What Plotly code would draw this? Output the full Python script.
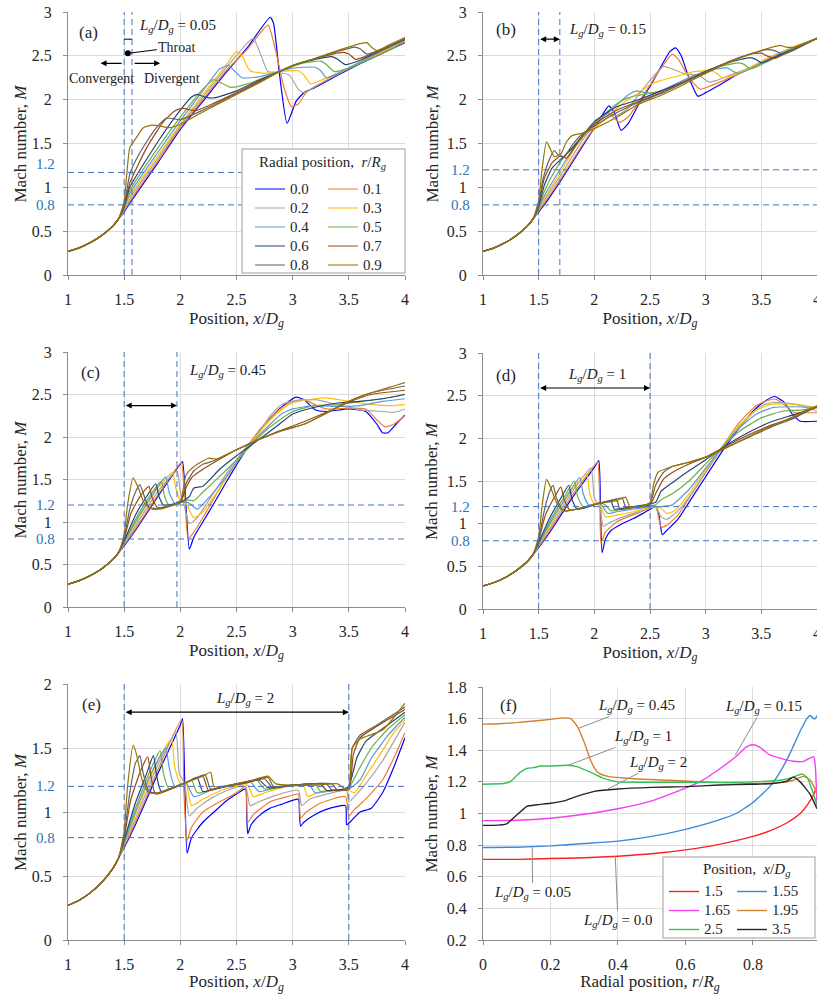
import plotly.graph_objects as go

# radial positions r/Rg and their colours (panels a-e)
R_NAMES = ["0.0", "0.1", "0.2", "0.3", "0.4", "0.5", "0.6", "0.7", "0.8", "0.9"]
R_COLORS = ["#0000ff", "#ed7d31", "#a5a5a5", "#ffc000", "#5b9bd5",
            "#70ad47", "#264478", "#9e480e", "#636363", "#997300"]

# convergent section, common to every radial position
INLET = [(1.0, 0.27), (1.1, 0.31), (1.2, 0.37), (1.3, 0.45), (1.4, 0.56), (1.45, 0.64)]

# (a) Lg/Dg = 0.05
PANEL_A = [
    [(1.5, 0.72), (1.55, 0.82), (1.8, 1.28), (2.0, 1.66), (2.2, 1.98), (2.4, 2.3), (2.6, 2.6), (2.8, 2.94),
     (2.83, 2.87), (2.88, 2.32), (2.95, 1.73), (3.03, 1.98), (3.1, 2.08), (3.2, 2.14), (3.4, 2.28), (3.6, 2.41),
     (3.8, 2.53), (4.0, 2.65)],
    [(1.5, 0.73), (1.55, 0.84), (1.8, 1.3), (2.0, 1.68), (2.2, 2.0), (2.4, 2.32), (2.6, 2.58), (2.78, 2.85),
     (2.85, 2.55), (2.92, 2.15), (2.99, 1.92), (3.05, 1.95), (3.12, 2.08), (3.2, 2.15), (3.4, 2.29), (3.6, 2.42),
     (3.8, 2.54), (4.0, 2.66)],
    [(1.5, 0.74), (1.55, 0.87), (1.8, 1.33), (2.0, 1.7), (2.2, 2.03), (2.4, 2.35), (2.6, 2.65), (2.65, 2.7),
     (2.72, 2.5), (2.78, 2.32), (2.88, 2.31), (2.97, 2.28), (3.05, 2.12), (3.1, 2.08), (3.2, 2.15), (3.4, 2.29),
     (3.6, 2.42), (3.8, 2.55), (4.0, 2.67)],
    [(1.5, 0.75), (1.55, 0.9), (1.8, 1.36), (2.0, 1.72), (2.2, 2.06), (2.4, 2.38), (2.5, 2.55), (2.55, 2.5),
     (2.62, 2.33), (2.75, 2.3), (2.88, 2.32), (3.05, 2.33), (3.1, 2.28), (3.16, 2.18), (3.25, 2.22), (3.4, 2.3),
     (3.6, 2.43), (3.8, 2.55), (4.0, 2.67)],
    [(1.5, 0.76), (1.55, 0.93), (1.8, 1.4), (2.0, 1.76), (2.2, 2.1), (2.35, 2.35), (2.43, 2.39), (2.48, 2.33),
     (2.55, 2.25), (2.7, 2.26), (2.88, 2.32), (3.0, 2.36), (3.2, 2.37), (3.25, 2.33), (3.3, 2.25), (3.4, 2.3),
     (3.6, 2.43), (3.8, 2.56), (4.0, 2.68)],
    [(1.5, 0.77), (1.55, 0.96), (1.8, 1.45), (2.0, 1.8), (2.2, 2.12), (2.3, 2.23), (2.35, 2.2), (2.45, 2.14),
     (2.6, 2.18), (2.88, 2.32), (3.0, 2.38), (3.1, 2.42), (3.25, 2.44), (3.3, 2.4), (3.37, 2.32), (3.5, 2.36),
     (3.7, 2.47), (3.9, 2.59), (4.0, 2.68)],
    [(1.5, 0.78), (1.55, 1.0), (1.8, 1.52), (2.0, 1.88), (2.1, 2.03), (2.15, 2.06), (2.22, 2.03), (2.3, 2.02),
     (2.5, 2.1), (2.7, 2.22), (2.88, 2.32), (3.0, 2.39), (3.2, 2.46), (3.35, 2.49), (3.4, 2.46), (3.47, 2.4),
     (3.6, 2.45), (3.8, 2.57), (4.0, 2.69)],
    [(1.5, 0.79), (1.55, 1.05), (1.7, 1.45), (1.85, 1.75), (1.95, 1.87), (2.02, 1.9), (2.1, 1.88), (2.15, 1.88),
     (2.3, 1.96), (2.5, 2.08), (2.7, 2.21), (2.88, 2.32), (3.0, 2.39), (3.2, 2.47), (3.45, 2.54), (3.5, 2.52),
     (3.56, 2.46), (3.7, 2.52), (3.85, 2.6), (4.0, 2.69)],
    [(1.5, 0.81), (1.55, 1.15), (1.6, 1.3), (1.7, 1.52), (1.8, 1.7), (1.88, 1.79), (1.95, 1.78), (2.0, 1.77),
     (2.2, 1.88), (2.5, 2.07), (2.7, 2.2), (2.88, 2.32), (3.0, 2.39), (3.2, 2.47), (3.4, 2.55), (3.55, 2.6),
     (3.6, 2.58), (3.66, 2.52), (3.8, 2.58), (4.0, 2.7)],
    [(1.5, 0.84), (1.52, 1.1), (1.55, 1.45), (1.6, 1.55), (1.67, 1.68), (1.75, 1.71), (1.82, 1.7), (1.9, 1.68),
     (2.0, 1.72), (2.2, 1.86), (2.5, 2.06), (2.7, 2.19), (2.88, 2.32), (3.0, 2.39), (3.2, 2.47), (3.4, 2.56),
     (3.6, 2.64), (3.66, 2.65), (3.7, 2.6), (3.75, 2.56), (3.85, 2.62), (4.0, 2.71)],
]

# (b) Lg/Dg = 0.15
PANEL_B = [
    [(1.5, 0.72), (1.55, 0.8), (1.7, 1.08), (1.9, 1.48), (2.05, 1.78), (2.13, 1.93), (2.18, 1.85), (2.24, 1.65),
     (2.3, 1.72), (2.4, 1.95), (2.5, 2.15), (2.6, 2.38), (2.68, 2.55), (2.73, 2.59), (2.78, 2.5), (2.85, 2.25),
     (2.93, 2.04), (3.0, 2.08), (3.1, 2.15), (3.3, 2.3), (3.5, 2.42), (3.75, 2.56), (4.0, 2.7)],
    [(1.5, 0.73), (1.55, 0.82), (1.7, 1.1), (1.9, 1.5), (2.05, 1.76), (2.12, 1.86), (2.17, 1.8), (2.23, 1.74),
     (2.3, 1.8), (2.4, 1.97), (2.5, 2.17), (2.6, 2.36), (2.7, 2.52), (2.76, 2.45), (2.85, 2.25), (2.95, 2.12),
     (3.05, 2.16), (3.2, 2.24), (3.4, 2.36), (3.6, 2.49), (3.8, 2.6), (4.0, 2.7)],
    [(1.5, 0.74), (1.55, 0.85), (1.7, 1.14), (1.9, 1.55), (2.05, 1.78), (2.12, 1.84), (2.2, 1.82), (2.3, 1.9),
     (2.4, 2.06), (2.5, 2.22), (2.62, 2.38), (2.7, 2.35), (2.8, 2.3), (2.95, 2.27), (3.03, 2.2), (3.1, 2.22),
     (3.2, 2.27), (3.4, 2.37), (3.6, 2.5), (3.8, 2.6), (4.0, 2.7)],
    [(1.5, 0.75), (1.55, 0.87), (1.7, 1.18), (1.9, 1.6), (2.0, 1.68), (2.1, 1.78), (2.2, 1.9), (2.3, 2.0),
     (2.4, 2.08), (2.5, 2.17), (2.6, 2.22), (2.75, 2.27), (2.9, 2.32), (3.05, 2.33), (3.1, 2.3), (3.15, 2.25),
     (3.25, 2.28), (3.4, 2.37), (3.6, 2.5), (3.8, 2.61), (4.0, 2.7)],
    [(1.5, 0.76), (1.55, 0.9), (1.7, 1.22), (1.85, 1.52), (2.0, 1.72), (2.15, 1.88), (2.3, 2.05), (2.38, 2.1),
     (2.45, 2.08), (2.55, 2.08), (2.7, 2.16), (2.9, 2.28), (3.1, 2.35), (3.2, 2.36), (3.25, 2.32), (3.3, 2.3),
     (3.45, 2.38), (3.6, 2.48), (3.8, 2.6), (4.0, 2.7)],
    [(1.5, 0.77), (1.55, 0.95), (1.65, 1.2), (1.75, 1.38), (1.85, 1.5), (2.0, 1.73), (2.2, 1.95), (2.3, 2.02),
     (2.4, 2.05), (2.6, 2.1), (2.8, 2.2), (3.0, 2.33), (3.2, 2.4), (3.3, 2.42), (3.35, 2.4), (3.4, 2.35),
     (3.55, 2.43), (3.7, 2.53), (3.85, 2.62), (4.0, 2.7)],
    [(1.5, 0.78), (1.55, 1.02), (1.62, 1.22), (1.7, 1.32), (1.78, 1.42), (1.85, 1.52), (2.0, 1.75), (2.2, 1.92),
     (2.4, 2.0), (2.6, 2.1), (2.8, 2.2), (3.0, 2.32), (3.2, 2.42), (3.4, 2.48), (3.45, 2.46), (3.5, 2.42),
     (3.65, 2.5), (3.8, 2.58), (4.0, 2.7)],
    [(1.5, 0.8), (1.55, 1.1), (1.62, 1.28), (1.7, 1.36), (1.75, 1.33), (1.82, 1.45), (1.9, 1.6), (2.0, 1.72),
     (2.2, 1.88), (2.4, 1.98), (2.6, 2.08), (2.8, 2.2), (3.0, 2.32), (3.2, 2.43), (3.4, 2.52), (3.5, 2.53),
     (3.55, 2.5), (3.62, 2.47), (3.75, 2.55), (4.0, 2.7)],
    [(1.5, 0.82), (1.54, 1.1), (1.6, 1.33), (1.64, 1.42), (1.68, 1.36), (1.73, 1.35), (1.8, 1.48), (1.9, 1.62),
     (2.0, 1.7), (2.2, 1.85), (2.4, 1.97), (2.6, 2.07), (2.8, 2.19), (3.0, 2.31), (3.2, 2.43), (3.4, 2.52),
     (3.55, 2.57), (3.62, 2.56), (3.7, 2.52), (3.8, 2.57), (4.0, 2.7)],
    [(1.5, 0.85), (1.53, 1.2), (1.57, 1.52), (1.6, 1.45), (1.64, 1.35), (1.7, 1.38), (1.75, 1.52), (1.8, 1.59),
     (1.9, 1.62), (2.0, 1.67), (2.2, 1.8), (2.4, 1.95), (2.6, 2.05), (2.8, 2.17), (3.0, 2.3), (3.2, 2.42),
     (3.4, 2.52), (3.6, 2.6), (3.67, 2.62), (3.72, 2.6), (3.8, 2.6), (4.0, 2.7)],
]

# (c) Lg/Dg = 0.45
PANEL_C = [
    [(1.5, 0.72), (1.6, 0.9), (1.8, 1.3), (2.0, 1.68), (2.02, 1.71), (2.05, 1.2), (2.08, 0.68), (2.12, 0.82),
     (2.2, 1.0), (2.3, 1.22), (2.4, 1.45), (2.5, 1.67), (2.6, 1.88), (2.7, 2.07), (2.8, 2.22), (2.9, 2.35),
     (3.03, 2.47), (3.1, 2.44), (3.2, 2.32), (3.3, 2.3), (3.5, 2.33), (3.65, 2.3), (3.75, 2.15), (3.8, 2.05),
     (3.85, 2.05), (3.92, 2.15), (4.0, 2.26)],
    [(1.5, 0.73), (1.6, 0.92), (1.8, 1.32), (2.0, 1.69), (2.01, 1.7), (2.04, 1.3), (2.07, 0.8), (2.12, 0.88),
     (2.2, 1.05), (2.3, 1.28), (2.4, 1.5), (2.5, 1.7), (2.6, 1.9), (2.7, 2.07), (2.8, 2.22), (2.9, 2.34),
     (3.0, 2.42), (3.1, 2.44), (3.2, 2.38), (3.3, 2.33), (3.5, 2.34), (3.65, 2.33), (3.75, 2.2), (3.82, 2.12),
     (3.9, 2.15), (4.0, 2.25)],
    [(1.5, 0.74), (1.6, 0.95), (1.8, 1.36), (1.97, 1.6), (2.0, 1.35), (2.03, 1.22), (2.08, 0.98), (2.15, 1.05),
     (2.25, 1.25), (2.4, 1.55), (2.5, 1.73), (2.6, 1.9), (2.7, 2.05), (2.8, 2.25), (2.9, 2.38), (3.0, 2.42),
     (3.2, 2.44), (3.4, 2.38), (3.6, 2.32), (3.8, 2.3), (3.9, 2.29), (4.0, 2.33)],
    [(1.5, 0.75), (1.6, 0.98), (1.8, 1.4), (1.93, 1.58), (1.96, 1.4), (2.0, 1.25), (2.05, 1.22), (2.12, 1.05),
     (2.2, 1.12), (2.3, 1.3), (2.4, 1.5), (2.5, 1.7), (2.6, 1.88), (2.7, 2.05), (2.8, 2.2), (2.9, 2.32),
     (3.0, 2.4), (3.2, 2.45), (3.3, 2.46), (3.5, 2.42), (3.7, 2.38), (3.9, 2.37), (4.0, 2.38)],
    [(1.5, 0.76), (1.6, 1.0), (1.75, 1.32), (1.87, 1.53), (1.9, 1.35), (1.95, 1.22), (2.0, 1.24), (2.08, 1.22),
     (2.15, 1.15), (2.25, 1.28), (2.4, 1.52), (2.5, 1.7), (2.6, 1.87), (2.7, 2.02), (2.8, 2.15), (2.9, 2.27),
     (3.0, 2.33), (3.2, 2.37), (3.4, 2.36), (3.6, 2.37), (3.8, 2.42), (4.0, 2.45)],
    [(1.5, 0.77), (1.6, 1.03), (1.75, 1.35), (1.83, 1.48), (1.86, 1.3), (1.9, 1.2), (2.0, 1.23), (2.07, 1.26),
     (2.12, 1.25), (2.2, 1.35), (2.4, 1.6), (2.5, 1.73), (2.6, 1.86), (2.7, 2.0), (2.8, 2.12), (3.0, 2.3),
     (3.2, 2.37), (3.4, 2.38), (3.6, 2.42), (3.8, 2.45), (4.0, 2.5)],
    [(1.5, 0.78), (1.6, 1.08), (1.7, 1.3), (1.78, 1.45), (1.81, 1.3), (1.85, 1.2), (2.0, 1.23), (2.08, 1.3),
     (2.12, 1.4), (2.2, 1.42), (2.35, 1.62), (2.5, 1.78), (2.7, 1.97), (2.9, 2.17), (3.0, 2.27), (3.2, 2.35),
     (3.4, 2.4), (3.6, 2.42), (3.8, 2.45), (4.0, 2.5)],
    [(1.5, 0.8), (1.56, 1.1), (1.65, 1.32), (1.72, 1.42), (1.75, 1.28), (1.8, 1.17), (2.0, 1.23), (2.05, 1.4),
     (2.1, 1.52), (2.2, 1.62), (2.3, 1.7), (2.5, 1.85), (2.7, 1.97), (2.9, 2.08), (3.1, 2.18), (3.3, 2.29),
     (3.5, 2.41), (3.7, 2.5), (4.0, 2.55)],
    [(1.5, 0.82), (1.55, 1.15), (1.6, 1.35), (1.64, 1.44), (1.68, 1.3), (1.72, 1.17), (1.8, 1.16), (2.0, 1.23),
     (2.05, 1.45), (2.12, 1.6), (2.2, 1.68), (2.3, 1.72), (2.5, 1.85), (2.7, 1.97), (2.9, 2.08), (3.1, 2.15),
     (3.3, 2.28), (3.5, 2.42), (3.7, 2.52), (4.0, 2.6)],
    [(1.5, 0.85), (1.53, 1.2), (1.58, 1.52), (1.62, 1.42), (1.68, 1.22), (1.75, 1.15), (1.85, 1.16), (2.0, 1.25),
     (2.05, 1.55), (2.12, 1.65), (2.25, 1.75), (2.32, 1.74), (2.5, 1.85), (2.7, 1.97), (2.9, 2.07), (3.1, 2.15),
     (3.3, 2.28), (3.5, 2.42), (3.7, 2.52), (3.9, 2.6), (4.0, 2.64)],
]

# (d) Lg/Dg = 1
PANEL_D = [
    [(1.5, 0.72), (1.6, 0.9), (1.8, 1.3), (2.0, 1.66), (2.04, 1.74), (2.055, 1.2), (2.07, 0.66), (2.1, 0.82),
     (2.15, 0.92), (2.25, 1.0), (2.35, 1.06), (2.45, 1.13), (2.55, 1.2), (2.58, 1.1), (2.61, 0.87), (2.65, 0.92),
     (2.75, 1.05), (2.85, 1.25), (3.0, 1.55), (3.15, 1.85), (3.3, 2.12), (3.45, 2.35), (3.55, 2.45), (3.62, 2.49),
     (3.7, 2.43), (3.78, 2.28), (3.85, 2.2), (4.0, 2.2)],
    [(1.5, 0.73), (1.6, 0.92), (1.8, 1.33), (2.0, 1.68), (2.03, 1.72), (2.05, 1.2), (2.06, 0.77), (2.1, 0.9),
     (2.2, 1.02), (2.3, 1.08), (2.4, 1.13), (2.55, 1.2), (2.6, 0.96), (2.65, 0.98), (2.75, 1.1), (2.85, 1.3),
     (3.0, 1.6), (3.15, 1.9), (3.3, 2.18), (3.45, 2.38), (3.55, 2.44), (3.63, 2.46), (3.72, 2.38), (3.8, 2.3),
     (3.9, 2.3), (4.0, 2.3)],
    [(1.5, 0.74), (1.6, 0.95), (1.8, 1.37), (1.97, 1.65), (2.0, 1.3), (2.05, 1.2), (2.08, 0.97), (2.15, 1.02),
     (2.3, 1.1), (2.45, 1.16), (2.55, 1.2), (2.6, 1.08), (2.65, 1.05), (2.75, 1.15), (2.9, 1.4), (3.05, 1.7),
     (3.2, 1.97), (3.35, 2.2), (3.5, 2.38), (3.6, 2.42), (3.8, 2.4), (4.0, 2.32)],
    [(1.5, 0.75), (1.6, 0.98), (1.8, 1.4), (1.93, 1.58), (1.96, 1.35), (2.0, 1.23), (2.05, 1.22), (2.1, 1.08),
     (2.2, 1.1), (2.35, 1.14), (2.5, 1.19), (2.6, 1.18), (2.65, 1.12), (2.72, 1.15), (2.85, 1.35), (3.0, 1.63),
     (3.15, 1.9), (3.3, 2.15), (3.45, 2.33), (3.6, 2.4), (3.8, 2.4), (4.0, 2.36)],
    [(1.5, 0.76), (1.6, 1.0), (1.75, 1.32), (1.87, 1.54), (1.9, 1.35), (1.95, 1.22), (2.05, 1.24), (2.12, 1.12),
     (2.2, 1.14), (2.35, 1.17), (2.5, 1.2), (2.6, 1.2), (2.7, 1.22), (2.85, 1.4), (3.0, 1.65), (3.15, 1.9),
     (3.3, 2.12), (3.45, 2.28), (3.6, 2.36), (3.8, 2.37), (4.0, 2.36)],
    [(1.5, 0.77), (1.6, 1.03), (1.75, 1.36), (1.82, 1.5), (1.85, 1.32), (1.9, 1.2), (2.05, 1.24), (2.1, 1.22),
     (2.15, 1.15), (2.3, 1.18), (2.45, 1.21), (2.55, 1.22), (2.6, 1.28), (2.7, 1.35), (2.85, 1.5), (3.0, 1.7),
     (3.15, 1.9), (3.3, 2.08), (3.5, 2.24), (3.7, 2.32), (3.85, 2.33), (4.0, 2.36)],
    [(1.5, 0.78), (1.6, 1.07), (1.7, 1.3), (1.77, 1.45), (1.8, 1.28), (1.85, 1.17), (2.05, 1.24), (2.15, 1.26),
     (2.18, 1.17), (2.3, 1.19), (2.45, 1.22), (2.55, 1.25), (2.6, 1.38), (2.7, 1.48), (2.85, 1.62), (3.0, 1.75),
     (3.2, 1.93), (3.4, 2.08), (3.6, 2.2), (3.8, 2.28), (4.0, 2.37)],
    [(1.5, 0.8), (1.56, 1.1), (1.65, 1.33), (1.7, 1.43), (1.73, 1.28), (1.78, 1.16), (2.05, 1.24), (2.2, 1.28),
     (2.23, 1.17), (2.35, 1.19), (2.5, 1.22), (2.55, 1.35), (2.62, 1.52), (2.7, 1.6), (2.85, 1.7), (3.0, 1.78),
     (3.2, 1.92), (3.4, 2.05), (3.6, 2.16), (3.8, 2.25), (4.0, 2.37)],
    [(1.5, 0.82), (1.55, 1.15), (1.6, 1.38), (1.63, 1.45), (1.66, 1.3), (1.72, 1.15), (1.8, 1.16), (2.05, 1.24),
     (2.25, 1.3), (2.28, 1.2), (2.4, 1.2), (2.5, 1.24), (2.55, 1.45), (2.62, 1.6), (2.7, 1.67), (2.85, 1.72),
     (3.0, 1.78), (3.2, 1.9), (3.4, 2.02), (3.6, 2.14), (3.8, 2.24), (4.0, 2.38)],
    [(1.5, 0.85), (1.53, 1.2), (1.57, 1.52), (1.6, 1.45), (1.66, 1.25), (1.72, 1.15), (1.8, 1.16), (2.05, 1.24),
     (2.2, 1.27), (2.28, 1.31), (2.32, 1.2), (2.4, 1.19), (2.5, 1.25), (2.53, 1.45), (2.57, 1.6), (2.7, 1.67),
     (2.85, 1.72), (3.0, 1.78), (3.2, 1.9), (3.4, 2.03), (3.6, 2.15), (3.8, 2.26), (4.0, 2.38)],
]

# (e) Lg/Dg = 2
PANEL_E = [
    [(1.5, 0.72), (1.6, 0.9), (1.8, 1.3), (2.0, 1.68), (2.02, 1.73), (2.04, 1.2), (2.06, 0.68), (2.1, 0.8),
     (2.2, 0.92), (2.3, 1.0), (2.4, 1.08), (2.5, 1.14), (2.58, 1.18), (2.59, 1.0), (2.6, 0.83), (2.63, 0.9),
     (2.7, 0.97), (2.8, 1.03), (2.9, 1.06), (3.05, 1.1), (3.06, 1.0), (3.07, 0.89), (3.1, 0.92), (3.2, 0.98),
     (3.3, 1.02), (3.47, 1.05), (3.48, 0.9), (3.52, 0.93), (3.6, 1.0), (3.7, 1.03), (3.8, 1.15), (3.9, 1.35),
     (4.0, 1.58)],
    [(1.5, 0.73), (1.6, 0.92), (1.8, 1.33), (2.01, 1.72), (2.03, 1.2), (2.06, 0.78), (2.1, 0.88), (2.2, 1.0),
     (2.35, 1.08), (2.5, 1.15), (2.58, 1.2), (2.6, 0.92), (2.65, 0.98), (2.8, 1.08), (2.95, 1.12), (3.05, 1.14),
     (3.07, 0.95), (3.12, 1.0), (3.25, 1.07), (3.47, 1.12), (3.5, 0.97), (3.55, 1.02), (3.65, 1.1), (3.8, 1.25),
     (3.9, 1.42), (4.0, 1.62)],
    [(1.5, 0.74), (1.6, 0.95), (1.8, 1.37), (1.96, 1.62), (1.99, 1.3), (2.04, 1.22), (2.08, 0.97), (2.15, 1.03),
     (2.3, 1.12), (2.45, 1.18), (2.58, 1.2), (2.62, 1.05), (2.7, 1.08), (2.85, 1.13), (3.05, 1.17), (3.08, 1.05),
     (3.15, 1.1), (3.35, 1.15), (3.48, 1.17), (3.5, 1.08), (3.55, 1.12), (3.65, 1.22), (3.8, 1.4), (3.9, 1.55),
     (4.0, 1.7)],
    [(1.5, 0.75), (1.6, 0.98), (1.8, 1.4), (1.92, 1.57), (1.95, 1.35), (2.0, 1.22), (2.05, 1.23), (2.1, 1.05),
     (2.2, 1.1), (2.4, 1.18), (2.6, 1.21), (2.65, 1.12), (2.75, 1.15), (2.95, 1.2), (3.1, 1.2), (3.13, 1.12),
     (3.25, 1.16), (3.5, 1.17), (3.55, 1.15), (3.65, 1.28), (3.8, 1.48), (3.9, 1.62), (4.0, 1.72)],
    [(1.5, 0.76), (1.6, 1.0), (1.75, 1.32), (1.87, 1.5), (1.9, 1.35), (1.95, 1.2), (2.05, 1.23), (2.12, 1.12),
     (2.3, 1.18), (2.55, 1.22), (2.62, 1.24), (2.7, 1.16), (2.9, 1.2), (3.15, 1.21), (3.2, 1.15), (3.35, 1.17),
     (3.5, 1.18), (3.6, 1.25), (3.7, 1.42), (3.85, 1.6), (4.0, 1.74)],
    [(1.5, 0.77), (1.6, 1.03), (1.75, 1.36), (1.82, 1.48), (1.85, 1.3), (1.9, 1.18), (2.05, 1.23), (2.1, 1.25),
     (2.15, 1.15), (2.3, 1.18), (2.5, 1.22), (2.6, 1.23), (2.68, 1.25), (2.75, 1.18), (2.95, 1.2), (3.2, 1.22),
     (3.25, 1.16), (3.4, 1.17), (3.5, 1.19), (3.6, 1.35), (3.7, 1.5), (3.85, 1.65), (4.0, 1.76)],
    [(1.5, 0.78), (1.6, 1.07), (1.7, 1.3), (1.76, 1.44), (1.79, 1.28), (1.83, 1.16), (2.05, 1.23), (2.15, 1.27),
     (2.2, 1.16), (2.35, 1.19), (2.5, 1.22), (2.7, 1.25), (2.78, 1.19), (3.0, 1.21), (3.25, 1.22), (3.3, 1.17),
     (3.45, 1.18), (3.5, 1.2), (3.57, 1.42), (3.65, 1.55), (3.8, 1.65), (4.0, 1.78)],
    [(1.5, 0.8), (1.56, 1.1), (1.65, 1.33), (1.71, 1.43), (1.74, 1.27), (1.78, 1.14), (2.05, 1.23), (2.2, 1.28),
     (2.25, 1.17), (2.4, 1.2), (2.6, 1.23), (2.75, 1.26), (2.82, 1.19), (3.0, 1.21), (3.3, 1.22), (3.35, 1.17),
     (3.5, 1.18), (3.54, 1.45), (3.6, 1.58), (3.75, 1.67), (4.0, 1.8)],
    [(1.5, 0.82), (1.55, 1.15), (1.6, 1.38), (1.64, 1.44), (1.67, 1.3), (1.72, 1.16), (1.8, 1.15), (2.05, 1.23),
     (2.22, 1.29), (2.27, 1.18), (2.45, 1.21), (2.6, 1.24), (2.78, 1.27), (2.83, 1.2), (3.0, 1.21), (3.35, 1.22),
     (3.4, 1.17), (3.5, 1.18), (3.53, 1.5), (3.6, 1.6), (3.75, 1.68), (4.0, 1.82)],
    [(1.5, 0.85), (1.53, 1.2), (1.58, 1.52), (1.61, 1.45), (1.66, 1.25), (1.72, 1.15), (1.8, 1.15), (2.05, 1.23),
     (2.2, 1.28), (2.27, 1.31), (2.3, 1.2), (2.5, 1.22), (2.65, 1.25), (2.78, 1.28), (2.85, 1.22), (3.0, 1.21),
     (3.2, 1.21), (3.4, 1.22), (3.47, 1.18), (3.5, 1.18), (3.53, 1.5), (3.6, 1.57), (3.8, 1.64), (4.0, 1.85)],
]

GAP_END = [1.57, 1.69, 1.97, 2.5, 3.5]
GAP_TEXT = ["0.05", "0.15", "0.45", "1", "2"]

# (f) Mach number across the radius at several axial positions
F_NAMES = ["1.5", "1.55", "1.65", "1.95", "2.5", "3.5"]
F_COLORS = ["#ff1f1f", "#3a8ad6", "#f43ff4", "#d4802f", "#33c05a", "#262626"]
F_15 = [(0, 0.71), (0.1, 0.71), (0.2, 0.715), (0.3, 0.72), (0.4, 0.73), (0.5, 0.745), (0.6, 0.77), (0.7, 0.805),
        (0.8, 0.855), (0.85, 0.89), (0.9, 0.94), (0.94, 1.0), (0.96, 1.05), (0.98, 1.12), (0.99, 1.17)]
F_155 = [(0, 0.785), (0.1, 0.787), (0.2, 0.795), (0.3, 0.81), (0.4, 0.825), (0.5, 0.855), (0.6, 0.9), (0.7, 0.96),
         (0.75, 1.0), (0.8, 1.07), (0.85, 1.17), (0.88, 1.26), (0.91, 1.38), (0.94, 1.52), (0.96, 1.6), (0.97, 1.62),
         (0.98, 1.6), (0.985, 1.6), (0.99, 1.62)]
F_165 = [(0, 0.955), (0.1, 0.957), (0.2, 0.97), (0.3, 0.995), (0.4, 1.03), (0.5, 1.08), (0.6, 1.16), (0.65, 1.21),
         (0.7, 1.28), (0.75, 1.36), (0.78, 1.42), (0.8, 1.435), (0.82, 1.42), (0.85, 1.37), (0.88, 1.35), (0.92, 1.33),
         (0.95, 1.33), (0.98, 1.36), (0.985, 1.3), (0.99, 1.05)]
F_195 = [(0, 1.565), (0.05, 1.568), (0.1, 1.575), (0.15, 1.585), (0.2, 1.595), (0.24, 1.605), (0.26, 1.6),
         (0.28, 1.55), (0.3, 1.45), (0.32, 1.33), (0.34, 1.26), (0.37, 1.235), (0.45, 1.22), (0.55, 1.21),
         (0.7, 1.195), (0.8, 1.19), (0.88, 1.195), (0.92, 1.21), (0.95, 1.235), (0.97, 1.21), (0.99, 1.13)]
F_25 = [(0, 1.185), (0.06, 1.19), (0.08, 1.2), (0.11, 1.26), (0.13, 1.285), (0.15, 1.29), (0.17, 1.3), (0.2, 1.3),
        (0.25, 1.305), (0.28, 1.295), (0.32, 1.26), (0.36, 1.22), (0.4, 1.2), (0.5, 1.198), (0.6, 1.198),
        (0.7, 1.197), (0.8, 1.2), (0.88, 1.21), (0.92, 1.23), (0.945, 1.25), (0.96, 1.23), (0.98, 1.12), (0.99, 1.05)]
F_35 = [(0, 0.925), (0.03, 0.925), (0.07, 0.935), (0.1, 0.99), (0.13, 1.045), (0.16, 1.055), (0.2, 1.065),
        (0.24, 1.08), (0.28, 1.11), (0.33, 1.14), (0.4, 1.155), (0.5, 1.165), (0.6, 1.17), (0.7, 1.18), (0.8, 1.185),
        (0.86, 1.19), (0.9, 1.205), (0.92, 1.23), (0.94, 1.2), (0.97, 1.12), (0.99, 1.03)]
F_SERIES = [F_15, F_155, F_165, F_195, F_25, F_35]
F_GAPS = ["0.0", "0.05", "0.15", "0.45", "1", "2"]

SERIF = "Liberation Serif"
W, H = 817, 994


def px(x):
    return x / W


def py(y):
    return 1 - y / H


def lg_text(val):
    return f"<i>L<sub>g</sub></i>/<i>D<sub>g</sub></i> = {val}"


fig = go.Figure()

# subplot frames: x domain, y domain, y range, y-title x position
frames = [
    ([px(68), px(405)], [py(275), py(12)], [0, 3], 20),
    ([px(483), 1.0], [py(275), py(12)], [0, 3], 432),
    ([px(68), px(405)], [py(607), py(352)], [0, 3], 20),
    ([px(483), 1.0], [py(609), py(353)], [0, 3], 432),
    ([px(68), px(405)], [py(940), py(684)], [0, 2], 20),
    ([px(483), 1.0], [py(940), py(687)], [0.2, 1.8], 431),
]

axis_common = dict(
    showline=True, linecolor="#8c8c8c", linewidth=1, ticks="outside", ticklen=4, tickcolor="#8c8c8c",
    showgrid=True, gridcolor="#dcdcdc", gridwidth=1, zeroline=False, automargin=False,
    ticklabeloverflow="allow", tickfont=dict(family=SERIF, size=16, color="#262626"),
)
title_font = dict(family=SERIF, size=17, color="#262626")

shapes = []
annotations = []
layout_axes = {}
for i, (xd, yd, yr, tx) in enumerate(frames):
    n = i + 1
    sx = "" if n == 1 else str(n)
    is_f = n == 6
    layout_axes[f"xaxis{sx}"] = dict(
        axis_common, domain=xd, anchor=f"y{sx}",
        range=[0, 0.99] if is_f else [1, 4], dtick=0.2 if is_f else 0.5,
        ticklabelstandoff=6,
        title=dict(text="Radial position, <i>r</i>/<i>R<sub>g</sub></i>" if is_f
                   else "Position, <i>x</i>/<i>D<sub>g</sub></i>", font=title_font, standoff=4),
    )
    layout_axes[f"yaxis{sx}"] = dict(
        axis_common, domain=yd, anchor=f"x{sx}", range=yr, dtick=0.2 if is_f else 0.5,
        ticklabelstandoff=8,
    )
    annotations.append(dict(xref="paper", yref="paper", x=px(tx), y=(yd[0] + yd[1]) / 2,
                            xanchor="center", yanchor="middle", text="Mach number, <i>M</i>",
                            textangle=-90, showarrow=False, font=title_font))

# panels (a)-(e)
panels = [PANEL_A, PANEL_B, PANEL_C, PANEL_D, PANEL_E]
for i, series in enumerate(panels):
    n = i + 1
    sx = "" if n == 1 else str(n)
    xr, yr = f"x{sx}", f"y{sx}"
    for k, pts in enumerate(series):
        pts = INLET + pts
        fig.add_trace(go.Scatter(
            x=[p[0] for p in pts], y=[p[1] for p in pts], mode="lines",
            line=dict(color=R_COLORS[k], width=1.2, shape="spline", smoothing=0.5),
            name=f"<span style='font-size:15px'>{R_NAMES[k]}</span>",
            legend="legend" if k % 2 == 0 else "legend2",
            showlegend=(i == 0), xaxis=xr, yaxis=yr,
        ))
    hi = 1.17 if i == 0 else 1.2
    for lvl in (0.8, hi):
        shapes.append(dict(type="line", xref=f"{xr} domain", yref=yr, x0=0, x1=1, y0=lvl, y1=lvl,
                           line=dict(color="#4472c4", width=1, dash="6px,4px")))
    for xv in (1.5, GAP_END[i]):
        shapes.append(dict(type="line", xref=xr, yref=f"{yr} domain", x0=xv, x1=xv, y0=0, y1=1,
                           line=dict(color="#4472c4", width=1, dash="6px,4px")))
    for lvl, txt in ((1.27 if i == 0 else 1.2, "1.2"), (0.8, "0.8")):
        annotations.append(dict(xref=f"{xr} domain", yref=yr, x=0, y=lvl, text=txt, showarrow=False,
                                xanchor="right", yanchor="middle", xshift=-11,
                                font=dict(family=SERIF, size=15, color="#2e75b6")))

tag_pos = [(1.18, 2.77), (1.21, 2.8), (1.2, 2.76), (1.21, 2.74), (1.21, 1.84), (0.077, 1.68)]
for i, (tx, ty) in enumerate(tag_pos):
    sx = "" if i == 0 else str(i + 1)
    annotations.append(dict(xref=f"x{sx}", yref=f"y{sx}", x=tx, y=ty, text=f"({'abcdef'[i]})",
                            showarrow=False, font=dict(family=SERIF, size=17, color="#262626")))

# Lg/Dg labels and span arrows
lab_font = dict(family=SERIF, size=15, color="#1a1a1a")
lab_pos = [(1.61, 2.84, "left"), (1.75, 2.8, "left"), (2.06, 2.78, "left"), (2.02, 2.74, "center"),
           (2.58, 1.88, "center")]
arrow_y = [None, 2.69, 2.37, 2.59, 1.78]
for i in range(5):
    sx = "" if i == 0 else str(i + 1)
    xr, yr = f"x{sx}", f"y{sx}"
    lx, ly, anc = lab_pos[i]
    annotations.append(dict(xref=xr, yref=yr, x=lx, y=ly, text=lg_text(GAP_TEXT[i]), showarrow=False,
                            xanchor=anc, font=lab_font))
    if arrow_y[i] is not None:
        annotations.append(dict(xref=xr, yref=yr, axref=xr, ayref=yr, x=GAP_END[i], y=arrow_y[i],
                                ax=1.5, ay=arrow_y[i], text="", showarrow=True, arrowhead=2,
                                arrowside="end+start", arrowsize=1, arrowwidth=1.2, arrowcolor="#000"))

# (a) throat bracket, convergent / divergent arrows
shapes.append(dict(type="line", xref="x", yref="y", x0=1.5, x1=1.57, y0=2.69, y1=2.69,
                   line=dict(color="#000", width=1)))
fig.add_trace(go.Scatter(x=[1.533], y=[2.53], mode="markers", marker=dict(color="#000", size=6),
                         showlegend=False, xaxis="x", yaxis="y"))
annotations += [
    dict(xref="x", yref="y", axref="x", ayref="y", x=1.545, y=2.53, ax=1.97, ay=2.6, text="Throat",
         showarrow=True, arrowhead=0, arrowwidth=1, arrowcolor="#000", font=dict(family=SERIF, size=14)),
    dict(xref="x", yref="y", axref="x", ayref="y", x=1.29, y=2.415, ax=1.49, ay=2.415, text="",
         showarrow=True, arrowhead=2, arrowsize=1, arrowwidth=1.2, arrowcolor="#000"),
    dict(xref="x", yref="y", axref="x", ayref="y", x=1.82, y=2.415, ax=1.58, ay=2.415, text="",
         showarrow=True, arrowhead=2, arrowsize=1, arrowwidth=1.2, arrowcolor="#000"),
    dict(xref="x", yref="y", x=1.295, y=2.24, text="Convergent", showarrow=False,
         font=dict(family=SERIF, size=14, color="#1a1a1a")),
    dict(xref="x", yref="y", x=1.93, y=2.24, text="Divergent", showarrow=False,
         font=dict(family=SERIF, size=14, color="#1a1a1a")),
]

# panel (f)
for k, pts in enumerate(F_SERIES):
    fig.add_trace(go.Scatter(
        x=[p[0] for p in pts], y=[p[1] for p in pts], mode="lines",
        line=dict(color=F_COLORS[k], width=1.4, shape="spline", smoothing=0.5),
        name=f"<span style='font-size:15px'>{F_NAMES[k]}</span>",
        legend="legend3" if k % 2 == 0 else "legend4", xaxis="x6", yaxis="y6",
    ))

# leader labels in (f): curve point -> text centre
f_leaders = [(0.392, 0.73, 0.40, 0.32), (0.146, 0.785, 0.147, 0.495), (0.748, 1.37, 0.83, 1.674),
             (0.285, 1.54, 0.455, 1.68), (0.246, 1.30, 0.475, 1.484), (0.37, 1.155, 0.52, 1.32)]
for (hx, hy, tx, ty), gap in zip(f_leaders, F_GAPS):
    annotations.append(dict(xref="x6", yref="y6", axref="x6", ayref="y6", x=hx, y=hy, ax=tx, ay=ty,
                            text=lg_text(gap), showarrow=True, arrowhead=0, arrowwidth=1,
                            arrowcolor="#8c8c8c", font=lab_font))

# legend boxes and their titles
shapes.append(dict(type="rect", xref="paper", yref="paper", x0=px(242), x1=px(405), y0=py(273), y1=py(149),
                   fillcolor="white", line=dict(color="#bfbfbf", width=1.5), layer="above"))
shapes.append(dict(type="rect", xref="paper", yref="paper", x0=px(663), x1=px(815), y0=py(938), y1=py(857),
                   fillcolor="white", line=dict(color="#bfbfbf", width=1.5), layer="above"))
annotations += [
    dict(xref="paper", yref="paper", x=px(322), y=py(163), xanchor="center", yanchor="middle",
         text="Radial position,  <i>r</i>/<i>R<sub>g</sub></i>",
         showarrow=False, font=dict(family=SERIF, size=15, color="#262626")),
    dict(xref="paper", yref="paper", x=px(746), y=py(870), xanchor="center", yanchor="middle",
         text="Position,  <i>x</i>/<i>D<sub>g</sub></i>",
         showarrow=False, font=dict(family=SERIF, size=15, color="#262626")),
]

leg_common = dict(bgcolor="rgba(0,0,0,0)", borderwidth=0, xanchor="left", yanchor="top", itemwidth=30,
                  tracegroupgap=0, font=dict(family=SERIF, size=12, color="#262626"))

fig.update_layout(
    template="none",
    width=W, height=H, margin=dict(l=0, r=0, t=0, b=0, autoexpand=False),
    paper_bgcolor="white", plot_bgcolor="white",
    font=dict(family=SERIF, color="#262626"),
    shapes=shapes, annotations=annotations,
    legend=dict(leg_common, x=px(250), y=py(174.5)),
    legend2=dict(leg_common, x=px(323), y=py(174.5)),
    legend3=dict(leg_common, x=px(664), y=py(877)),
    legend4=dict(leg_common, x=px(732), y=py(877)),
    **layout_axes,
)

# drop the page's default body margin so the figure sits at the window's corner
fig.write_html("out.html", config={"displayModeBar": False},
               post_script="document.body.style.margin = '0';")
